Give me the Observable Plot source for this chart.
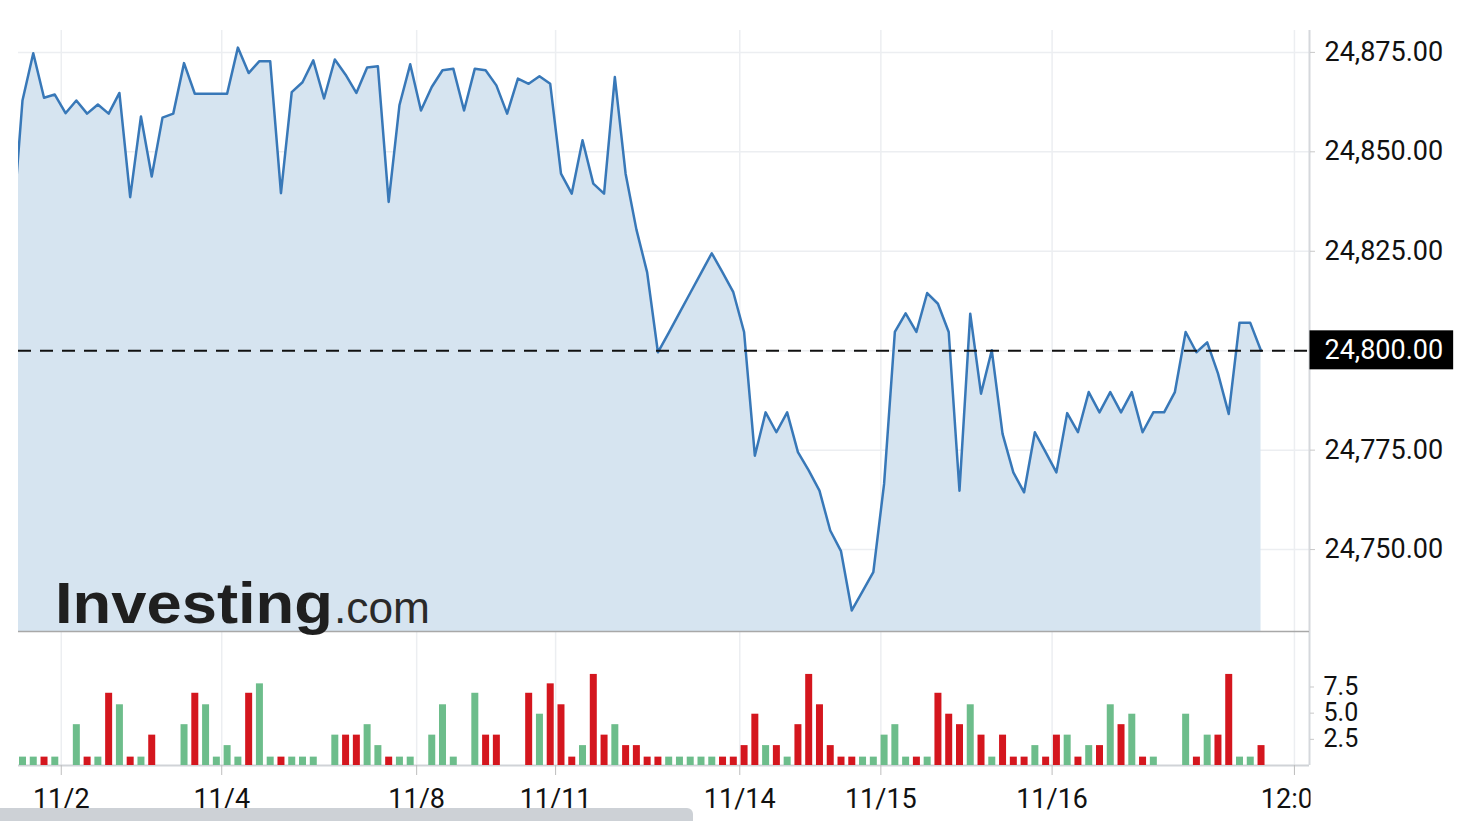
<!DOCTYPE html>
<html><head><meta charset="utf-8">
<script src="https://cdn.jsdelivr.net/npm/d3@7"></script>
<script src="https://cdn.jsdelivr.net/npm/@observablehq/plot@0.6"></script>
<style>
body{margin:0;background:#fff;}
#wrap{position:relative;width:1476px;height:821px;overflow:hidden;background:#fff;font-family:Roboto,sans-serif;}
#price,#vol{position:absolute;left:0;}
#price{top:0;}
#vol{top:620px;}
#scroll{position:absolute;left:0;top:808px;width:693px;height:16px;background:#cdd1d6;border-radius:0 6px 0 0;}
svg{overflow:visible;}
</style></head>
<body><div id="wrap"><div id="vol"></div><div id="price"></div><div id="scroll"></div></div>
<script>
// ---- data ----
const startIndex = -1; // first price point lies just left of the visible frame
const prices = [
 24828,
 24862.9,24874.8,24863.6,24864.4,24859.7,24862.9,24859.6,24861.9,24859.6,24864.8,
 24838.6,24858.9,24843.8,24858.6,24859.6,24872.3,24864.6,24864.6,24864.6,24864.6,
 24876.2,24869.8,24872.8,24872.8,24839.6,24865,24867.5,24873,24863.4,24873.2,
 24869.4,24864.8,24871.2,24871.5,24837.4,24861.7,24872,24860.4,24866.3,24870.5,
 24870.9,24860.4,24870.9,24870.5,24866.7,24859.6,24868.4,24867.1,24869,24867.1,
 24844.5,24839.5,24852.9,24842,24839.5,24868.8,24844.5,24830.5,24819.7,24799.6,
 24804.5,24809.5,24814.5,24819.5,24824.5,24819.7,24814.7,24804.7,24773.6,24784.5,
 24779.5,24784.5,24774.5,24769.9,24764.8,24754.8,24749.6,24734.7,24739.5,24744.3,
 24766.5,24804.7,24809.4,24804.7,24814.5,24811.8,24804.7,24764.8,24809.3,24789.2,
 24800.1,24779.1,24769.4,24764.4,24779.5,24774.5,24769.4,24784.3,24779.5,24789.6,
 24784.5,24789.6,24784.5,24789.6,24779.5,24784.5,24784.5,24789.6,24804.7,24799.6,
 24802.1,24794.3,24784.1,24807,24807,24800
];
const lastPrice = 24800;
const volumes = [
 0.8,0.8,0.8,0.8,0,3.9,0.8,0.8,6.9,5.8,
 0.8,0.8,2.9,0,0,3.9,6.9,5.8,0.8,1.9,
 0.8,6.9,7.8,0.8,0.8,0.8,0.8,0.8,0,2.9,
 2.9,2.9,3.9,1.9,0.8,0.8,0.8,0,2.9,5.8,
 0.8,0,6.9,2.9,2.9,0,0,6.9,4.9,7.8,
 5.8,0.8,1.9,8.7,2.9,3.9,1.9,1.9,0.8,0.8,
 0.8,0.8,0.8,0.8,0.8,0.8,0.8,1.9,4.9,1.9,
 1.9,0.8,3.9,8.7,5.8,1.9,0.8,0.8,0.8,0.8,
 2.9,3.9,0.8,0.8,0.8,6.9,4.9,3.9,5.8,2.9,
 0.8,2.9,0.8,0.8,1.9,0.8,2.9,2.9,0.8,1.9,
 1.9,5.8,3.9,4.9,0.8,0.8,0,0,4.9,0.8,
 2.9,2.9,8.7,0.8,0.8,1.9
];
const volumeDir = [
 "u","u","d","u","","u","d","u","d","u",
 "d","u","d","","","u","d","u","u","u",
 "u","d","u","u","d","u","u","u","","u",
 "d","d","u","u","d","u","u","","u","u",
 "u","","u","d","d","","","d","u","d",
 "d","d","u","d","d","u","d","d","d","d",
 "u","u","u","u","u","d","d","d","d","u",
 "d","u","d","d","d","d","d","d","u","u",
 "u","u","u","d","u","d","d","d","u","d",
 "u","d","d","d","u","d","d","u","d","u",
 "d","u","d","u","d","u","","","u","d",
 "u","d","d","u","u","d"
];
const yTicks = [24750, 24775, 24825, 24850, 24875];
const yGrid = [24750, 24775, 24800, 24825, 24850, 24875];
const volTicks = [2.5, 5.0, 7.5];
const xTickPos = [3.6, 18.5, 36.6, 49.5, 66.6, 79.7, 95.6, 118.1];
const xTickLabels = ["11/2", "11/4", "11/8", "11/11", "11/14", "11/15", "11/16", "12:00"];

// ---- build ----
const priceData = prices.map((p, k) => ({i: k + startIndex, p}));
const volData = volumes.map((v, k) => ({i: k, v, d: volumeDir[k]})).filter(d => d.v > 0);
const upVol = volData.filter(d => d.d === "u");
const downVol = volData.filter(d => d.d === "d");
const labelMap = new Map(xTickPos.map((p, k) => [p, xTickLabels[k]]));

const W = 1476, ML = 18, MR = 167;
const xDomain = [-0.37, 119.5];
const yDomain = [24729.4, 24880.5];
const FONT = "Roboto, 'Liberation Sans', Arial, sans-serif";
const GREEN = "#6dbd8b", RED = "#d4161e";

const pricePlot = Plot.plot({
  width: W, height: 632,
  marginLeft: ML, marginRight: MR, marginTop: 30, marginBottom: 1,
  style: {fontFamily: FONT, fontSize: "27px", color: "#111", background: "transparent", overflow: "visible"},
  x: {domain: xDomain, axis: null},
  y: {domain: yDomain, axis: null},
  marks: [
    Plot.ruleY(yGrid, {stroke: "#eceef1", strokeWidth: 1.5}),
    Plot.ruleX(xTickPos, {stroke: "#eceef1", strokeWidth: 1.5}),
    Plot.areaY(priceData, {x: "i", y1: yDomain[0], y2: "p", fill: "#d6e4f0", clip: true}),
    Plot.lineY(priceData, {x: "i", y: "p", stroke: "#3878b8", strokeWidth: 2.5, clip: true}),
    Plot.ruleY([lastPrice], {stroke: "#111", strokeWidth: 2, strokeDasharray: "13,9"}),
    Plot.ruleY([yDomain[0]], {stroke: "#a8a8a8", strokeWidth: 1.5}),
    Plot.ruleX([xDomain[1]], {stroke: "#d5d8dc", strokeWidth: 2}),
    Plot.axisY(yTicks, {anchor: "right", label: null, tickFormat: d3.format(",.2f"), tickSize: 5, tickPadding: 10, fontSize: 27, stroke: "#c8c8c8", fill: "#111"}),
    Plot.text([lastPrice], {x: xDomain[1], y: d => d, text: d => d3.format(",.2f")(d), fill: "white", textAnchor: "start", dx: 15, fontSize: 27, className: "last-label"})
  ]
});
document.getElementById("price").appendChild(pricePlot);

// black box behind the last-price label, and the watermark
{
  const svg = d3.select(pricePlot);
  const t = svg.select(".last-label text");
  if (!t.empty()) {
    const node = t.node();
    const bb = node.getBBox();
    d3.select(node.parentNode).insert("rect", "text")
      .attr("transform", node.getAttribute("transform"))
      .attr("x", bb.x - 15).attr("y", bb.y - 4)
      .attr("width", bb.width + 25).attr("height", bb.height + 7)
      .attr("fill", "#000");
  }
  const logo = svg.append("g").attr("font-family", "'Liberation Sans', Arial, sans-serif").attr("text-anchor", "start");
  logo.append("text").attr("x", 55).attr("y", 623).attr("text-anchor", "start")
    .attr("font-size", 58).attr("font-weight", 900).attr("fill", "#1f1f1f")
    .attr("textLength", 278).attr("lengthAdjust", "spacingAndGlyphs").text("Investing");
  logo.append("text").attr("x", 334).attr("y", 623).attr("text-anchor", "start")
    .attr("font-size", 44).attr("font-weight", 400).attr("fill", "#2a2a2a")
    .attr("textLength", 96).attr("lengthAdjust", "spacingAndGlyphs").text(".com");
}

const volPlot = Plot.plot({
  width: W, height: 201,
  marginLeft: ML, marginRight: MR, marginTop: 11, marginBottom: 56,
  style: {fontFamily: FONT, fontSize: "27px", color: "#111", background: "transparent", overflow: "visible"},
  x: {domain: xDomain, axis: null},
  y: {domain: [0, 12.8], axis: null},
  marks: [
    Plot.ruleX(xTickPos, {stroke: "#eceef1", strokeWidth: 1.5}),
    Plot.ruleY([0], {stroke: "#d0d3d7", strokeWidth: 2}),
    Plot.ruleX(upVol, {x: "i", y1: 0, y2: "v", stroke: GREEN, strokeWidth: 7}),
    Plot.ruleX(downVol, {x: "i", y1: 0, y2: "v", stroke: RED, strokeWidth: 7}),
    Plot.ruleX([xDomain[1]], {stroke: "#d5d8dc", strokeWidth: 2}),
    Plot.axisY(volTicks, {anchor: "right", label: null, tickFormat: d3.format(".1f"), tickSize: 4, tickPadding: 10, fontSize: 25, stroke: "#c8c8c8", fill: "#111"}),
    Plot.axisX(xTickPos, {anchor: "bottom", label: null, tickFormat: d => labelMap.get(d), tickSize: 10, tickPadding: 13, fontSize: 27, stroke: "#bdbdbd", fill: "#111"})
  ]
});
document.getElementById("vol").appendChild(volPlot);

// clip the x labels at the right edge of the plotting frame (the "12:00" label is cut)
{
  const svg = d3.select(volPlot);
  const id = "xlabclip";
  svg.append("defs").append("clipPath").attr("id", id)
    .append("rect").attr("x", 0).attr("y", 0).attr("width", W - MR + 1).attr("height", 300);
  svg.selectAll('g[aria-label="x-axis tick label"]').attr("clip-path", `url(#${id})`);
}
</script>
</body></html>
